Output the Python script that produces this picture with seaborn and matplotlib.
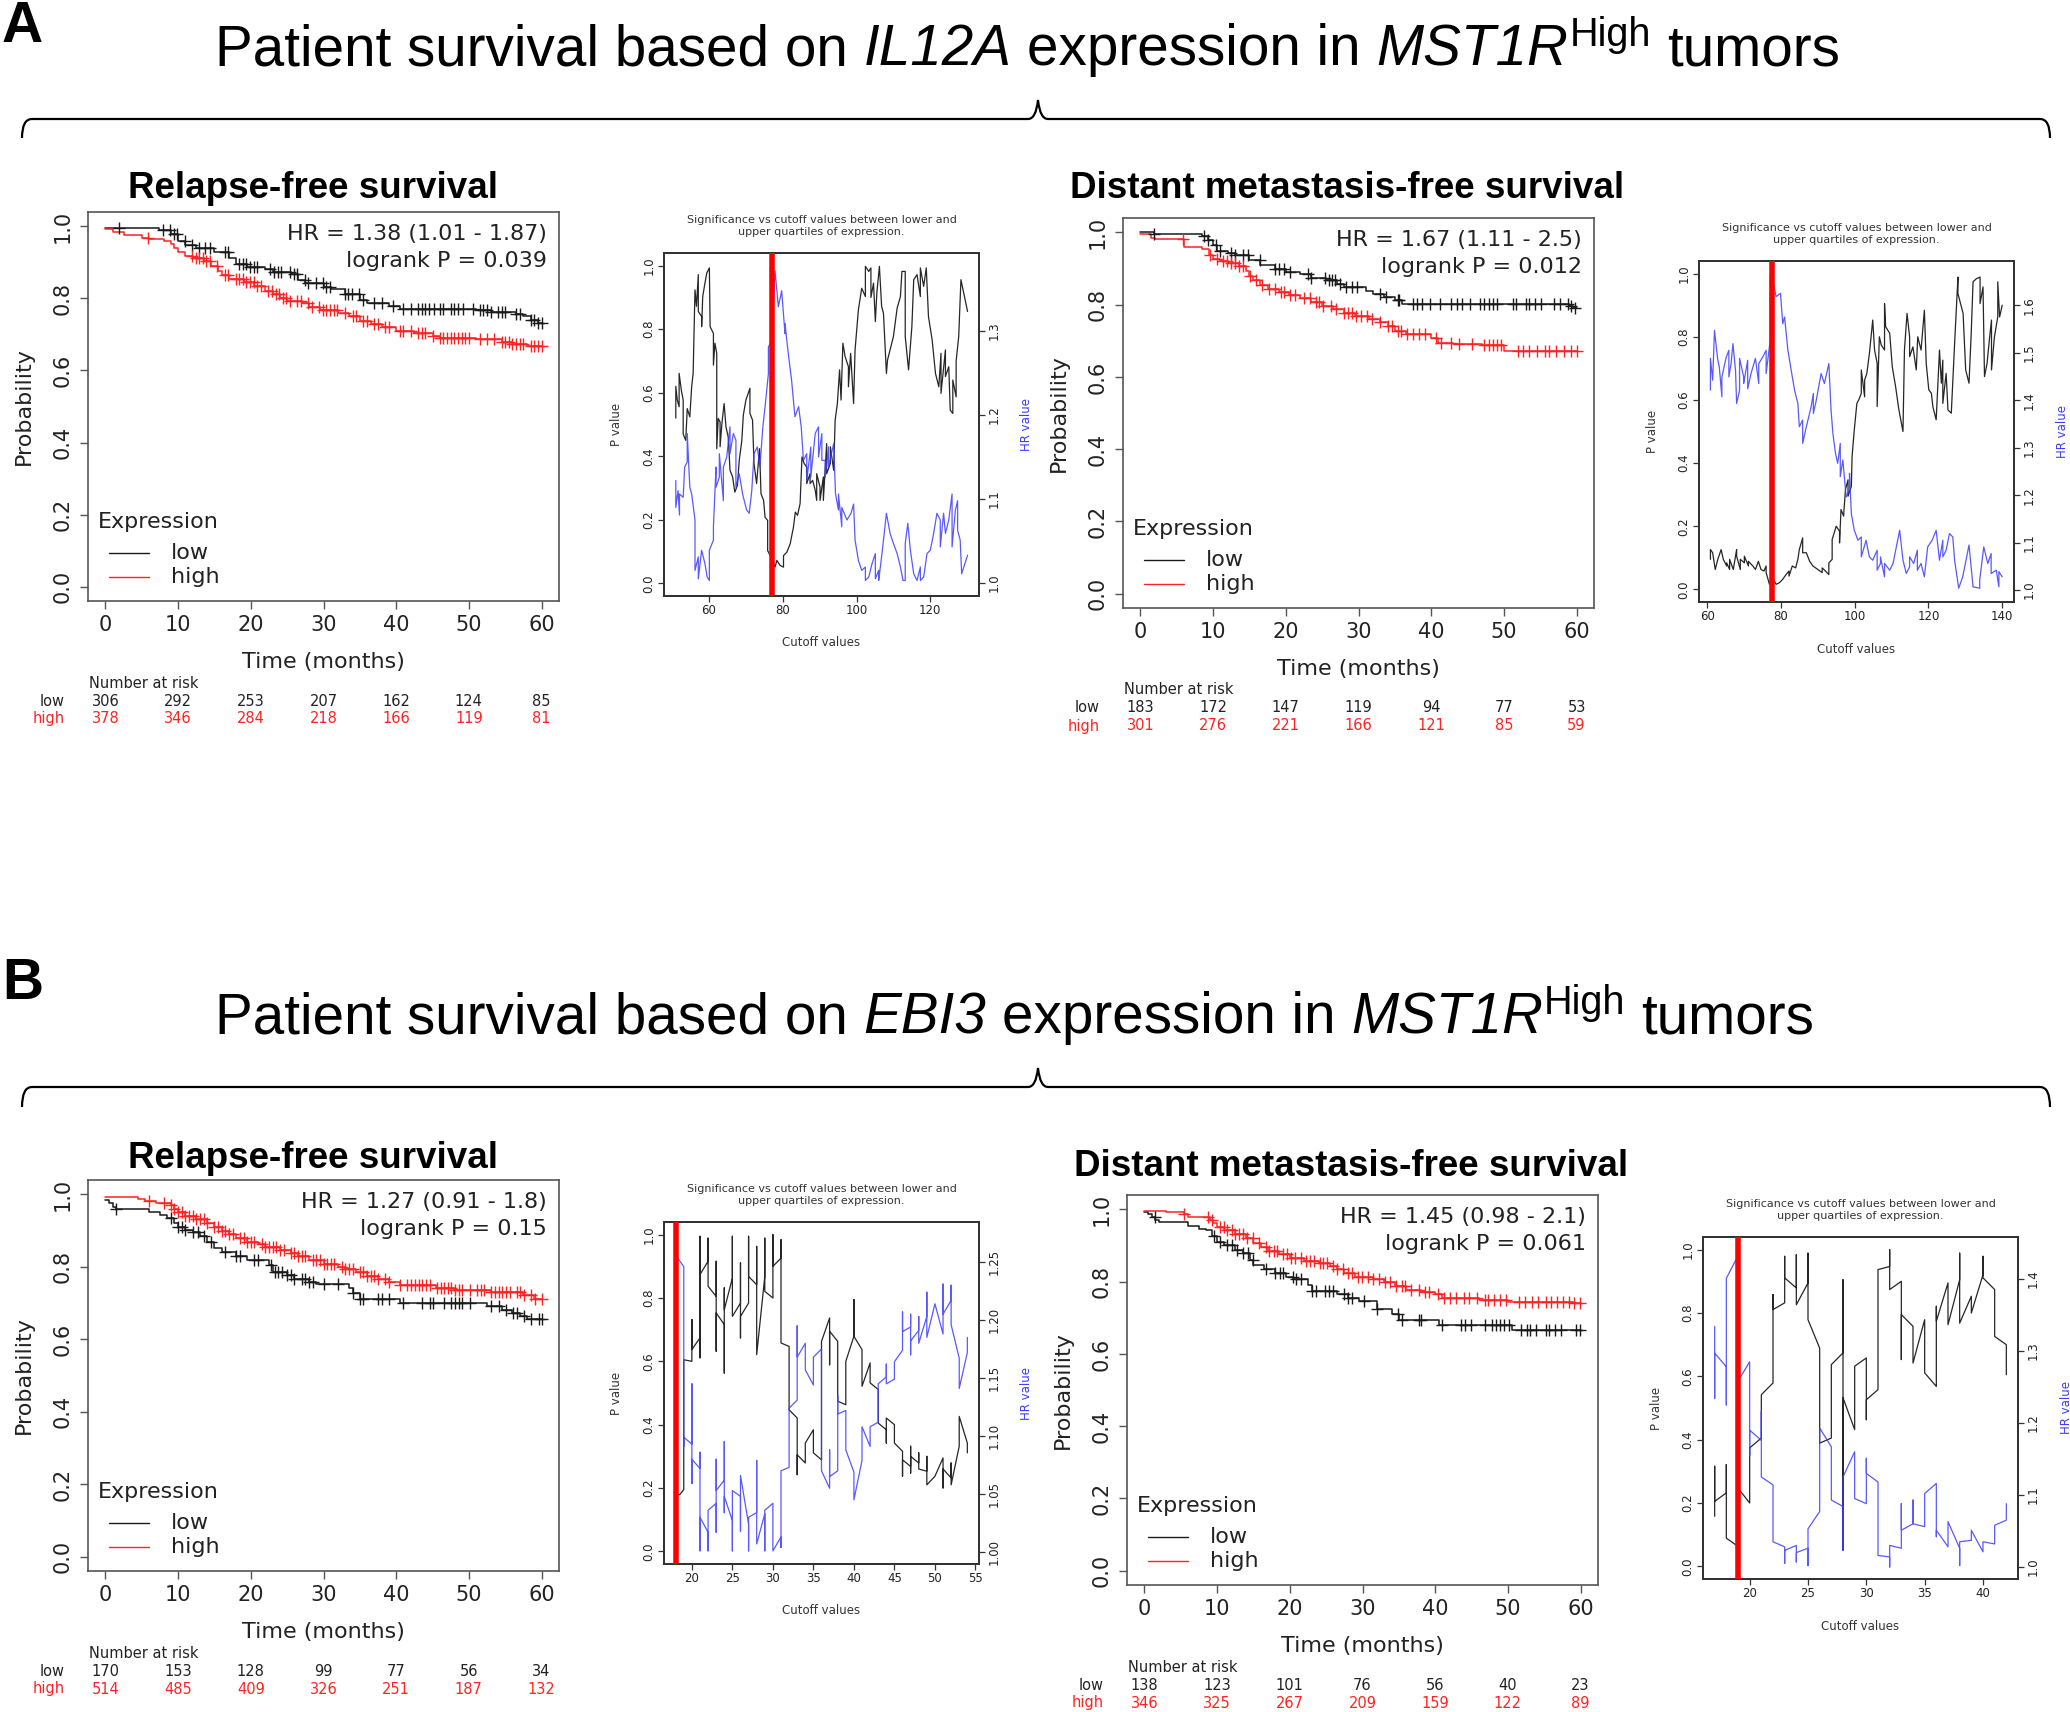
import numpy as np
import pandas as pd
import matplotlib
matplotlib.use("Agg")
import matplotlib.pyplot as plt
import matplotlib.transforms as mtransforms
from matplotlib.path import Path
from matplotlib.patches import PathPatch
import seaborn as sns

sns.set_style("white")
plt.rcParams["font.family"] = ["DejaVu Sans"]

# ---------------- data: Kaplan-Meier curves ----------------
risk_times = [0, 10, 20, 30, 40, 50, 60]

il12a_rfs_low_t = [0, 7.4, 9, 10, 11, 12.5, 15, 17, 18, 19.5, 22, 23, 25.5, 26.5, 27.5, 30, 31, 33, 35, 36, 39, 40.5, 51, 53, 56.5, 57.5, 58.5, 59.5, 60]
il12a_rfs_low_s = [0.995, 0.99, 0.98, 0.959, 0.949, 0.939, 0.929, 0.911, 0.895, 0.888, 0.883, 0.874, 0.867, 0.852, 0.842, 0.832, 0.827, 0.811, 0.796, 0.786, 0.779, 0.770, 0.767, 0.762, 0.757, 0.75, 0.74, 0.733, 0.733]
il12a_rfs_high_t = [0, 1, 2.5, 5, 6, 8, 9, 9.5, 10, 11, 12, 13.5, 14.5, 15.5, 16, 17, 19, 20.5, 22, 23, 24, 25, 27, 28, 29.5, 32, 33.5, 35, 36.5, 38, 40, 42.5, 45, 46, 51, 54.5, 56, 58, 60]
il12a_rfs_high_s = [0.992, 0.985, 0.977, 0.969, 0.965, 0.959, 0.952, 0.939, 0.929, 0.918, 0.911, 0.903, 0.891, 0.876, 0.865, 0.854, 0.847, 0.834, 0.821, 0.811, 0.801, 0.793, 0.786, 0.776, 0.768, 0.760, 0.75, 0.738, 0.730, 0.721, 0.711, 0.704, 0.697, 0.691, 0.687, 0.679, 0.673, 0.668, 0.668]
il12a_rfs_low_cens = [1.9, 7.9, 8.9, 9.4, 9.9, 10.9, 11.9, 12.9, 13.7, 14.4, 16.4, 16.9, 18.4, 18.9, 19.4, 19.9, 20.4, 20.9, 22.7, 23.2, 23.7, 24.2, 25.4, 25.9, 26.4, 27.4, 27.9, 28.9, 29.9, 30.4, 30.9, 33, 33.4, 33.9, 34.9, 35.5, 36.9, 38, 39.5, 41, 42, 43, 43.5, 44, 44.5, 45.2, 46, 46.5, 47.5, 48, 48.5, 49.2, 50.5, 51.5, 52, 52.5, 53, 54, 54.5, 55, 56.5, 57, 58.5, 59, 59.5, 60]
il12a_rfs_high_cens = [5.9, 11.9, 12.4, 12.9, 13.4, 13.9, 14.4, 15.4, 16.4, 16.9, 17.9, 18.4, 18.9, 19.4, 19.9, 20.4, 20.9, 21.4, 22.4, 22.9, 23.4, 23.9, 24.4, 24.9, 25.4, 26.4, 26.9, 27.9, 28.4, 29.4, 29.9, 30.4, 30.9, 31.4, 31.9, 33, 34, 34.5, 35.5, 36, 37, 37.5, 38.5, 39, 40.5, 41, 42, 43, 43.5, 44, 45, 46, 46.5, 47, 47.5, 48, 48.5, 49, 49.5, 50, 51.5, 52.5, 53.5, 54.5, 55, 55.5, 56, 56.5, 57, 57.5, 58.5, 59, 59.5, 60]
il12a_rfs_risk_low = [306, 292, 253, 207, 162, 124, 85]
il12a_rfs_risk_high = [378, 346, 284, 218, 166, 119, 81]

il12a_dmfs_low_t = [0, 1.8, 8.5, 9.3, 10, 10.5, 12, 13, 15, 16.5, 18.5, 20, 22, 23.5, 25.5, 27, 28, 31, 32, 33.5, 35, 36, 59, 59.5, 60]
il12a_dmfs_low_s = [1.0, 0.997, 0.99, 0.979, 0.964, 0.948, 0.943, 0.938, 0.925, 0.909, 0.899, 0.891, 0.886, 0.875, 0.868, 0.858, 0.849, 0.839, 0.829, 0.821, 0.813, 0.802, 0.797, 0.79, 0.79]
il12a_dmfs_high_t = [0, 1.5, 2, 6, 8.5, 9.5, 10, 11, 12, 13.5, 14.5, 15, 15.5, 16.5, 17.5, 19, 20.5, 22, 23.5, 25, 26.5, 28, 29.5, 31.5, 33, 34, 35, 36.5, 40, 41, 43, 47, 50, 60]
il12a_dmfs_high_s = [0.995, 0.984, 0.981, 0.960, 0.953, 0.938, 0.927, 0.922, 0.915, 0.906, 0.894, 0.880, 0.867, 0.854, 0.844, 0.836, 0.828, 0.818, 0.808, 0.797, 0.787, 0.777, 0.768, 0.761, 0.751, 0.740, 0.728, 0.719, 0.709, 0.695, 0.691, 0.688, 0.673, 0.673]
il12a_dmfs_low_cens = [1.9, 8.8, 9.3, 10.4, 10.9, 12.5, 13, 14.1, 14.8, 16.4, 18.5, 19.1, 19.8, 20.6, 23, 23.5, 25.4, 25.9, 26.4, 26.7, 27.5, 28.3, 29.1, 29.8, 33, 33.8, 35.4, 35.6, 37.5, 38, 38.8, 39.8, 41.2, 42.7, 43.5, 44.3, 45.4, 46.7, 47.2, 48, 48.5, 49.1, 51.2, 51.7, 53, 53.5, 54.3, 55.1, 56.9, 57.7, 58.8, 59.3, 59.8]
il12a_dmfs_high_cens = [5.9, 9.6, 10.6, 11.4, 11.9, 12.5, 13, 13.5, 14.1, 15.1, 15.9, 16.7, 17.7, 18.5, 19.3, 19.8, 20.6, 21.2, 22.5, 23.3, 24.1, 24.6, 25.1, 26.2, 26.9, 28, 28.5, 29.1, 29.6, 30.4, 31.2, 31.9, 33, 34.1, 34.6, 35.4, 35.9, 36.7, 37.5, 38.3, 39.1, 40.6, 41.4, 42.7, 43.8, 45.6, 47.2, 48, 48.5, 49.1, 49.6, 52, 52.7, 53.5, 54.6, 55.6, 56.2, 57.2, 58.3, 59.3, 60]
il12a_dmfs_risk_low = [183, 172, 147, 119, 94, 77, 53]
il12a_dmfs_risk_high = [301, 276, 221, 166, 121, 85, 59]

ebi3_rfs_low_t = [0, 0.5, 1, 1.5, 6, 7.5, 8.5, 9.5, 10, 11, 12, 13, 14, 15, 16, 18, 19.5, 22.5, 23, 25, 26, 28, 29, 33.5, 34, 35, 40.5, 52.5, 54.5, 56, 57, 58, 60]
ebi3_rfs_low_s = [0.984, 0.977, 0.966, 0.959, 0.951, 0.944, 0.936, 0.920, 0.910, 0.902, 0.895, 0.885, 0.869, 0.852, 0.841, 0.829, 0.818, 0.805, 0.785, 0.778, 0.767, 0.757, 0.752, 0.742, 0.727, 0.711, 0.701, 0.691, 0.681, 0.673, 0.665, 0.655, 0.655]
ebi3_rfs_high_t = [0, 4.5, 5.5, 7, 9, 9.5, 10, 11, 12.5, 14, 15, 16, 17, 18, 19.5, 21, 22, 24, 25.5, 26.5, 28, 30, 32, 33, 34.5, 36, 37.5, 39, 40.5, 45.5, 48, 53, 57.5, 59, 60]
ebi3_rfs_high_s = [0.992, 0.987, 0.982, 0.977, 0.971, 0.961, 0.951, 0.941, 0.931, 0.920, 0.910, 0.900, 0.890, 0.880, 0.869, 0.864, 0.854, 0.846, 0.839, 0.829, 0.818, 0.808, 0.801, 0.793, 0.785, 0.774, 0.767, 0.759, 0.749, 0.742, 0.737, 0.730, 0.721, 0.711, 0.711]
ebi3_rfs_low_cens = [1.5, 9, 10, 10.5, 11, 12, 12.8, 13.5, 14.5, 16.5, 18, 18.5, 20.5, 21, 22.8, 23.3, 23.8, 24.3, 25, 25.5, 26, 27, 27.5, 28, 28.5, 30, 32, 34, 35, 35.5, 37.5, 38, 39, 41, 43.6, 44.6, 45.1, 46.6, 47.6, 48.1, 48.6, 49.1, 50.1, 53.1, 54.1, 55.1, 56.1, 56.6, 57.6, 58.6, 59.6, 60]
ebi3_rfs_high_cens = [6, 8, 9, 9.5, 10, 10.5, 11, 11.5, 12, 12.5, 13, 13.5, 14, 15, 15.5, 16, 16.5, 17, 17.5, 18.5, 19, 19.5, 20, 20.5, 21.5, 22, 22.5, 23, 23.5, 24, 24.5, 25.5, 26, 26.5, 27, 27.5, 28.5, 29, 29.5, 30, 30.5, 31, 31.5, 32.5, 33, 33.5, 34, 35, 35.5, 36, 36.5, 37, 37.5, 38.5, 39, 40.5, 41.5, 42, 42.6, 43.1, 43.6, 44.1, 44.6, 45.6, 46.1, 46.6, 47.1, 47.6, 48.1, 48.6, 49.1, 50.1, 51.1, 51.6, 52.1, 53.1, 53.6, 54.1, 54.6, 55.1, 55.6, 56.6, 57.1, 57.6, 58.6, 59.1, 60]
ebi3_rfs_risk_low = [170, 153, 128, 99, 77, 56, 34]
ebi3_rfs_risk_high = [514, 485, 409, 326, 251, 187, 132]

ebi3_dmfs_low_t = [0, 0.5, 1, 1.5, 2, 6, 7.5, 8.5, 9.3, 10, 11, 12.5, 13.5, 14.5, 15, 16.5, 18, 19.5, 20.5, 22.5, 23, 26.5, 28, 29.5, 32, 34, 35, 40.5, 50.5, 60]
ebi3_dmfs_low_s = [0.994, 0.987, 0.980, 0.972, 0.965, 0.955, 0.947, 0.942, 0.926, 0.911, 0.901, 0.889, 0.878, 0.861, 0.846, 0.834, 0.824, 0.814, 0.806, 0.791, 0.775, 0.765, 0.755, 0.747, 0.725, 0.710, 0.695, 0.680, 0.665, 0.665]
ebi3_dmfs_high_t = [0, 3, 5.5, 6, 9, 9.5, 10, 11, 12.5, 14, 15, 16, 17, 18.5, 20, 22, 24, 25.5, 26.5, 27.5, 29, 31.5, 33, 34.5, 36, 38, 40, 41, 46, 50, 59, 60]
ebi3_dmfs_high_s = [0.997, 0.994, 0.987, 0.979, 0.972, 0.962, 0.952, 0.942, 0.932, 0.921, 0.908, 0.896, 0.886, 0.876, 0.866, 0.858, 0.851, 0.843, 0.834, 0.824, 0.814, 0.806, 0.798, 0.788, 0.777, 0.770, 0.765, 0.755, 0.750, 0.745, 0.740, 0.740]
ebi3_dmfs_low_cens = [1.4, 9.6, 10.4, 11.4, 12, 12.8, 13.5, 14.3, 14.9, 16.7, 18, 18.6, 19.1, 20.4, 20.9, 21.5, 23, 23.6, 24.9, 25.4, 25.9, 27.5, 28, 28.6, 30.2, 32, 34.9, 35.4, 37.8, 38, 41, 43.6, 44.1, 44.9, 46.8, 47.8, 48.3, 48.9, 49.4, 50.2, 51.8, 52.6, 53.1, 53.9, 55.2, 55.7, 56.5, 57.3, 59.4, 59.9]
ebi3_dmfs_high_cens = [5.5, 8.8, 9.3, 10.4, 10.9, 11.4, 12, 12.5, 13, 13.5, 14.1, 14.9, 15.7, 16.7, 17.2, 17.8, 18.3, 19.1, 19.6, 20.1, 20.7, 21.5, 22.2, 22.8, 23.3, 24.1, 24.6, 25.1, 25.9, 26.5, 27.3, 28, 28.6, 29.4, 29.9, 30.7, 31.5, 32.3, 33.1, 33.8, 34.6, 35.4, 35.9, 36.7, 37.8, 38.6, 39.1, 40.4, 41.2, 42, 42.8, 43.9, 44.6, 45.7, 46.8, 47.3, 48.1, 48.9, 49.7, 51.5, 52.3, 53.3, 54.1, 55.2, 56, 56.8, 57.6, 58.4, 59.1, 59.9]
ebi3_dmfs_risk_low = [138, 123, 101, 76, 56, 40, 23]
ebi3_dmfs_risk_high = [346, 325, 267, 209, 159, 122, 89]

# ---------------- data: cutoff scans ----------------
il12a_rfs_cut_x = [51.0, 51.0, 51.4, 51.9, 51.9, 52.5, 53.0, 53.0, 53.7, 54.1, 54.8, 55.3, 55.7, 56.2, 56.6, 57.1, 57.1, 58.0, 58.0, 58.3, 58.9, 59.4, 60.1, 60.3, 61.2, 61.2, 61.6, 62.1, 62.1, 62.5, 63.0, 63.0, 63.5, 64.1, 64.6, 65.2, 65.7, 66.4, 67.0, 67.7, 68.2, 68.9, 69.3, 70.0, 71.1, 71.1, 71.8, 72.2, 72.9, 73.7, 74.1, 74.8, 75.2, 75.9, 75.9, 76.6, 77.9, 78.4, 79.3, 80.2, 80.2, 81.1, 82.0, 82.9, 83.4, 84.0, 84.7, 85.2, 85.8, 86.5, 86.5, 87.4, 87.4, 88.1, 88.8, 89.2, 89.2, 90.1, 90.1, 91.0, 91.0, 91.9, 91.9, 92.9, 92.9, 93.8, 94.2, 94.8, 95.4, 95.8, 96.3, 96.9, 97.8, 97.8, 98.4, 99.2, 99.6, 100.5, 101.4, 102.4, 102.4, 103.3, 103.9, 103.9, 104.6, 105.1, 105.5, 106.2, 106.8, 107.3, 108.1, 108.4, 109.1, 110.0, 111.0, 111.9, 112.3, 113.2, 113.2, 114.1, 115.0, 115.5, 116.4, 117.3, 117.3, 118.2, 118.9, 119.5, 120.5, 121.4, 122.3, 122.9, 122.9, 124.1, 124.1, 125.0, 125.4, 126.1, 126.1, 127.0, 127.0, 127.7, 128.3, 130.1]
il12a_rfs_cut_p = [0.52, 0.62, 0.577, 0.556, 0.661, 0.608, 0.577, 0.47, 0.45, 0.55, 0.524, 0.619, 0.661, 0.924, 0.872, 0.972, 0.856, 0.84, 0.808, 0.903, 0.945, 0.977, 0.993, 0.808, 0.787, 0.687, 0.756, 0.724, 0.424, 0.519, 0.508, 0.43, 0.503, 0.566, 0.493, 0.461, 0.356, 0.335, 0.287, 0.308, 0.387, 0.45, 0.529, 0.577, 0.614, 0.535, 0.514, 0.377, 0.314, 0.424, 0.282, 0.261, 0.208, 0.198, 0.103, 0.087, 0.051, 0.072, 0.056, 0.051, 0.087, 0.098, 0.124, 0.177, 0.224, 0.214, 0.251, 0.398, 0.377, 0.366, 0.314, 0.345, 0.314, 0.324, 0.293, 0.261, 0.345, 0.303, 0.261, 0.335, 0.261, 0.44, 0.345, 0.377, 0.43, 0.356, 0.514, 0.566, 0.672, 0.577, 0.756, 0.714, 0.682, 0.619, 0.724, 0.566, 0.735, 0.861, 0.929, 0.903, 0.998, 0.982, 0.993, 0.9, 0.945, 0.824, 0.914, 0.998, 0.872, 0.85, 0.661, 0.703, 0.735, 0.777, 0.866, 0.903, 0.982, 0.982, 0.777, 0.672, 0.808, 0.956, 0.972, 0.903, 0.993, 0.935, 0.993, 0.84, 0.766, 0.661, 0.619, 0.724, 0.598, 0.735, 0.651, 0.682, 0.545, 0.535, 0.64, 0.587, 0.70, 0.777, 0.956, 0.856]
il12a_rfs_hr_x = [51.0, 51.0, 51.6, 52.0, 52.0, 53.0, 53.4, 54.1, 54.1, 54.8, 55.3, 56.2, 56.2, 57.1, 57.1, 58.0, 58.9, 59.5, 60.1, 60.1, 61.2, 61.2, 61.9, 61.9, 62.8, 62.8, 63.9, 63.9, 64.8, 65.7, 65.7, 66.6, 67.3, 67.3, 68.2, 69.1, 70.2, 70.9, 71.6, 72.2, 73.1, 73.8, 74.6, 75.2, 76.1, 76.1, 77.0, 77.9, 78.8, 79.7, 80.6, 80.6, 81.5, 82.4, 83.3, 84.3, 85.0, 85.6, 86.5, 86.5, 87.6, 87.6, 88.8, 89.7, 89.7, 90.6, 90.6, 91.5, 91.5, 92.4, 92.4, 93.8, 94.3, 95.1, 95.1, 96.0, 96.0, 97.4, 98.5, 99.2, 99.6, 100.5, 101.4, 102.4, 102.4, 103.3, 104.2, 105.1, 105.1, 106.0, 106.0, 106.9, 108.1, 109.1, 110.0, 111.0, 111.9, 112.6, 113.2, 113.2, 113.9, 114.6, 115.5, 116.4, 117.3, 117.3, 118.2, 119.1, 120.0, 120.9, 121.8, 122.7, 122.7, 123.6, 124.1, 125.0, 125.9, 125.9, 126.8, 127.4, 127.4, 128.1, 128.5, 130.1]
il12a_rfs_hr = [1.122, 1.09, 1.11, 1.081, 1.106, 1.102, 1.138, 1.144, 1.178, 1.114, 1.106, 1.075, 1.015, 1.031, 1.005, 1.039, 1.023, 1.007, 1.003, 1.039, 1.051, 1.067, 1.138, 1.114, 1.126, 1.154, 1.098, 1.138, 1.15, 1.186, 1.154, 1.178, 1.17, 1.114, 1.13, 1.106, 1.087, 1.083, 1.11, 1.154, 1.162, 1.138, 1.186, 1.21, 1.249, 1.281, 1.289, 1.372, 1.329, 1.348, 1.297, 1.309, 1.273, 1.241, 1.198, 1.21, 1.186, 1.146, 1.154, 1.122, 1.162, 1.126, 1.178, 1.186, 1.150, 1.178, 1.146, 1.146, 1.126, 1.162, 1.138, 1.166, 1.106, 1.087, 1.106, 1.067, 1.090, 1.075, 1.083, 1.094, 1.051, 1.027, 1.015, 1.019, 1.003, 1.007, 1.023, 1.035, 1.005, 1.015, 1.003, 1.035, 1.083, 1.059, 1.047, 1.035, 1.019, 1.003, 1.003, 1.047, 1.071, 1.039, 1.011, 1.003, 1.019, 1.003, 1.007, 1.035, 1.039, 1.059, 1.083, 1.075, 1.043, 1.083, 1.059, 1.075, 1.106, 1.043, 1.087, 1.098, 1.063, 1.051, 1.011, 1.033]

il12a_dmfs_cut_x = [60.9, 60.9, 61.5, 62.2, 62.9, 63.8, 64.4, 65.3, 65.3, 66.1, 66.1, 67.1, 68.0, 68.0, 69.0, 69.0, 70.1, 70.1, 71.2, 71.2, 72.4, 73.1, 73.9, 74.6, 75.4, 76.0, 76.0, 76.9, 77.5, 78.7, 79.6, 80.5, 81.4, 82.2, 82.2, 83.1, 84.0, 84.6, 85.0, 85.9, 85.9, 86.9, 87.8, 88.7, 90.0, 91.2, 91.2, 92.1, 93.0, 93.0, 93.9, 93.9, 95.0, 95.9, 95.9, 96.3, 97.0, 97.5, 98.2, 98.2, 99.1, 99.3, 99.9, 100.6, 101.1, 101.8, 101.8, 102.7, 102.7, 103.3, 104.0, 104.9, 105.4, 106.1, 106.1, 106.7, 107.2, 108.1, 108.1, 108.4, 109.5, 110.2, 111.1, 112.0, 113.1, 113.5, 114.2, 114.9, 114.9, 115.8, 116.7, 117.1, 118.0, 118.9, 119.4, 120.1, 120.8, 121.2, 122.1, 123.0, 123.5, 123.9, 123.9, 124.8, 125.3, 126.2, 127.1, 128.0, 128.0, 129.4, 130.1, 131.0, 131.6, 132.1, 133.0, 134.0, 134.0, 134.8, 135.2, 135.9, 136.6, 137.1, 137.1, 137.9, 138.8, 138.8, 139.3, 140.0]
il12a_dmfs_cut_p = [0.095, 0.126, 0.116, 0.063, 0.095, 0.126, 0.095, 0.074, 0.084, 0.063, 0.095, 0.063, 0.126, 0.105, 0.063, 0.095, 0.084, 0.105, 0.074, 0.089, 0.074, 0.063, 0.089, 0.063, 0.058, 0.074, 0.053, 0.016, 0.042, 0.016, 0.021, 0.032, 0.047, 0.058, 0.042, 0.074, 0.068, 0.095, 0.126, 0.163, 0.116, 0.116, 0.089, 0.074, 0.063, 0.053, 0.068, 0.058, 0.047, 0.084, 0.095, 0.158, 0.2, 0.184, 0.147, 0.253, 0.232, 0.316, 0.347, 0.295, 0.326, 0.421, 0.505, 0.589, 0.6, 0.621, 0.695, 0.61, 0.663, 0.684, 0.747, 0.853, 0.758, 0.716, 0.579, 0.8, 0.774, 0.758, 0.905, 0.832, 0.811, 0.705, 0.642, 0.568, 0.5, 0.758, 0.874, 0.8, 0.737, 0.768, 0.695, 0.8, 0.758, 0.884, 0.716, 0.632, 0.621, 0.579, 0.537, 0.758, 0.653, 0.726, 0.589, 0.684, 0.568, 0.558, 0.779, 0.989, 0.937, 0.874, 0.695, 0.653, 0.811, 0.974, 0.984, 0.989, 0.905, 0.958, 0.674, 0.716, 0.8, 0.853, 0.695, 0.8, 0.863, 0.974, 0.863, 0.9]
il12a_dmfs_hr_x = [60.9, 60.9, 61.5, 62.0, 62.9, 63.3, 64.0, 64.0, 65.2, 65.9, 65.9, 66.5, 67.0, 67.7, 68.0, 68.8, 68.8, 69.9, 69.9, 71.0, 71.0, 71.9, 73.1, 74.0, 74.0, 75.1, 76.0, 76.0, 77.1, 77.1, 77.8, 78.7, 79.9, 80.5, 81.0, 81.9, 82.8, 83.7, 84.6, 85.0, 85.9, 85.9, 86.9, 88.2, 88.8, 88.8, 89.6, 90.9, 91.8, 93.0, 93.6, 94.1, 94.8, 95.4, 96.1, 96.1, 96.8, 97.7, 98.6, 98.6, 99.1, 99.9, 100.9, 101.8, 101.8, 103.1, 104.0, 104.9, 106.1, 106.1, 107.0, 107.0, 108.1, 108.1, 109.5, 110.4, 111.3, 112.2, 113.1, 114.0, 114.9, 114.9, 116.0, 117.0, 117.0, 118.0, 118.9, 119.8, 121.0, 122.1, 123.0, 123.9, 123.9, 124.8, 125.7, 126.6, 127.1, 128.2, 129.3, 131.0, 132.1, 133.9, 133.9, 135.0, 136.1, 137.0, 137.0, 138.4, 139.1, 139.1, 140.0]
il12a_dmfs_hr = [1.421, 1.488, 1.442, 1.547, 1.484, 1.47, 1.407, 1.449, 1.491, 1.505, 1.449, 1.477, 1.519, 1.463, 1.393, 1.421, 1.488, 1.449, 1.435, 1.484, 1.424, 1.456, 1.488, 1.435, 1.477, 1.491, 1.505, 1.456, 1.526, 1.663, 1.653, 1.618, 1.625, 1.561, 1.575, 1.505, 1.463, 1.421, 1.393, 1.344, 1.358, 1.309, 1.344, 1.386, 1.414, 1.372, 1.4, 1.456, 1.435, 1.477, 1.379, 1.33, 1.288, 1.267, 1.309, 1.239, 1.274, 1.196, 1.211, 1.246, 1.161, 1.126, 1.105, 1.112, 1.07, 1.105, 1.07, 1.063, 1.084, 1.042, 1.056, 1.07, 1.028, 1.056, 1.042, 1.056, 1.091, 1.126, 1.063, 1.035, 1.049, 1.07, 1.056, 1.084, 1.042, 1.056, 1.028, 1.091, 1.105, 1.126, 1.063, 1.105, 1.07, 1.084, 1.119, 1.112, 1.063, 1.004, 1.028, 1.095, 1.007, 1.004, 1.021, 1.091, 1.056, 1.077, 1.035, 1.042, 1.007, 1.039, 1.028]

ebi3_rfs_cut_x = [18, 18.5, 19, 19, 20, 20, 20, 21, 21, 21, 21, 22, 22, 22, 23, 23, 23, 23, 24, 24, 24, 24, 25, 25, 25, 26, 26, 26, 26, 27, 27, 27, 28, 28, 28, 29, 29, 29, 30, 30, 30, 31, 31, 31, 32, 32, 33, 33, 33, 34, 34, 35, 35, 36, 36, 37, 37, 37, 38, 38, 39, 39, 40, 40, 40, 41, 41, 42, 42, 43, 43, 44, 44, 44, 45, 45, 46, 46, 46, 47, 47, 47, 47, 48, 48, 48, 49, 49, 49, 50, 51, 51, 51, 52, 52, 52, 53, 53, 53, 54, 54]
ebi3_rfs_cut_p = [0.179, 0.179, 0.195, 0.605, 0.6, 0.732, 0.637, 0.674, 0.995, 0.611, 0.874, 0.916, 0.989, 0.837, 0.805, 0.916, 0.632, 0.753, 0.716, 0.563, 0.832, 0.763, 0.863, 0.995, 0.742, 0.784, 0.911, 0.674, 0.742, 0.784, 0.995, 0.868, 0.842, 0.963, 0.621, 0.868, 0.989, 0.821, 0.8, 1.0, 0.9, 0.926, 0.984, 0.658, 0.647, 0.447, 0.421, 0.242, 0.305, 0.279, 0.342, 0.384, 0.311, 0.289, 0.663, 0.737, 0.589, 0.695, 0.663, 0.474, 0.463, 0.6, 0.679, 0.795, 0.679, 0.637, 0.521, 0.595, 0.532, 0.511, 0.405, 0.384, 0.342, 0.421, 0.4, 0.342, 0.316, 0.237, 0.289, 0.268, 0.332, 0.247, 0.3, 0.279, 0.311, 0.26, 0.253, 0.3, 0.21, 0.237, 0.295, 0.2, 0.26, 0.232, 0.279, 0.21, 0.332, 0.379, 0.426, 0.342, 0.311]
ebi3_rfs_hr_x = [18, 19, 19, 19, 20, 20, 20, 20, 21, 21, 21, 21, 22, 22, 22, 23, 23, 23, 23, 24, 24, 24, 24, 25, 25, 25, 26, 26, 26, 27, 27, 27, 28, 28, 28, 29, 29, 29, 30, 30, 31, 31, 31, 32, 32, 33, 33, 33, 34, 34, 35, 35, 36, 36, 37, 37, 37, 38, 38, 38, 39, 39, 40, 40, 41, 41, 42, 42, 43, 43, 44, 44, 44, 45, 45, 46, 46, 46, 47, 47, 47, 47, 48, 48, 48, 49, 49, 49, 50, 51, 51, 51, 52, 52, 52, 53, 53, 54, 54]
ebi3_rfs_hr = [1.256, 1.246, 1.091, 1.099, 1.093, 1.145, 1.059, 1.080, 1.072, 1.086, 1.001, 1.03, 1.017, 1.001, 1.036, 1.042, 1.017, 1.080, 1.053, 1.062, 1.095, 1.034, 1.048, 1.027, 1.001, 1.053, 1.048, 1.018, 1.066, 1.024, 1.001, 1.030, 1.034, 1.079, 1.007, 1.033, 1.001, 1.036, 1.042, 1.001, 1.013, 1.004, 1.07, 1.073, 1.124, 1.131, 1.195, 1.168, 1.18, 1.157, 1.144, 1.168, 1.175, 1.07, 1.055, 1.088, 1.065, 1.07, 1.135, 1.119, 1.122, 1.088, 1.069, 1.045, 1.079, 1.108, 1.091, 1.108, 1.112, 1.145, 1.151, 1.162, 1.145, 1.149, 1.164, 1.174, 1.207, 1.19, 1.194, 1.205, 1.17, 1.182, 1.191, 1.203, 1.18, 1.203, 1.224, 1.185, 1.214, 1.188, 1.231, 1.205, 1.217, 1.23, 1.196, 1.167, 1.141, 1.172, 1.185]

ebi3_dmfs_cut_x = [17, 17, 17, 18, 18, 18, 19, 19, 20, 20, 21, 21, 22, 22, 22, 23, 23, 23, 24, 24, 24, 25, 25, 25, 26, 26, 27, 27, 28, 28, 28, 28, 29, 29, 30, 30, 30, 31, 31, 32, 32, 32, 33, 33, 33, 34, 34, 35, 35, 36, 36, 36, 37, 37, 38, 38, 38, 39, 39, 40, 40, 40, 41, 41, 42, 42]
ebi3_dmfs_cut_p = [0.158, 0.316, 0.205, 0.232, 0.321, 0.089, 0.063, 0.247, 0.2, 0.374, 0.405, 0.542, 0.579, 0.858, 0.811, 0.832, 0.979, 0.911, 0.879, 0.984, 0.826, 0.895, 0.989, 0.779, 0.689, 0.389, 0.405, 0.637, 0.674, 0.905, 0.053, 0.532, 0.432, 0.632, 0.658, 0.463, 0.526, 0.558, 0.937, 0.947, 1.0, 0.874, 0.9, 0.653, 0.795, 0.758, 0.642, 0.779, 0.611, 0.568, 0.821, 0.774, 0.895, 0.763, 0.905, 0.989, 0.768, 0.853, 0.8, 0.921, 0.979, 0.911, 0.874, 0.726, 0.7, 0.605]
ebi3_dmfs_hr_x = [17, 17, 17, 18, 18, 18, 19, 19, 20, 20, 20, 21, 21, 21, 22, 22, 23, 23, 23, 24, 24, 24, 25, 25, 25, 26, 26, 27, 27, 28, 28, 28, 29, 29, 30, 30, 30, 31, 31, 32, 32, 32, 33, 33, 33, 34, 34, 34, 35, 35, 36, 36, 36, 37, 37, 38, 38, 38, 39, 39, 40, 40, 41, 41, 42, 42]
ebi3_dmfs_hr = [1.334, 1.234, 1.297, 1.278, 1.225, 1.401, 1.432, 1.258, 1.285, 1.155, 1.19, 1.176, 1.216, 1.125, 1.114, 1.035, 1.028, 1.005, 1.023, 1.03, 1.007, 1.02, 1.026, 1.002, 1.053, 1.077, 1.193, 1.167, 1.093, 1.084, 1.023, 1.125, 1.16, 1.095, 1.088, 1.151, 1.13, 1.118, 1.016, 1.014, 1.0, 1.03, 1.026, 1.088, 1.051, 1.06, 1.093, 1.06, 1.056, 1.102, 1.116, 1.042, 1.051, 1.028, 1.063, 1.026, 1.002, 1.035, 1.037, 1.051, 1.021, 1.035, 1.032, 1.058, 1.065, 1.088]

best_cutoff = {"il12a_rfs": 77.1, "il12a_dmfs": 77.6, "ebi3_rfs": 18, "ebi3_dmfs": 19}

# ---------------- layout (pixels, top-left origin) ----------------
W, H = 2070, 1712
fig = plt.figure(figsize=(W / 100, H / 100), dpi=100)
renderer = fig.canvas.get_renderer()

TXT = "#222222"
RED = "#ff2222"
BLUE = "#3c3cff"
SANS = "Liberation Sans"


def add_box(x0, y0, x1, y1):
    return fig.add_axes([x0 / W, 1 - y1 / H, (x1 - x0) / W, (y1 - y0) / H])


def ftext(x, y, s, **kw):
    kw.setdefault("color", TXT)
    return fig.text(x / W, 1 - y / H, s, **kw)


def style_box(ax, color, lw):
    for sp in ax.spines.values():
        sp.set_visible(True)
        sp.set_color(color)
        sp.set_linewidth(lw)


def step_at(t, s, c):
    idx = np.searchsorted(np.asarray(t), np.asarray(c), side="right") - 1
    return np.asarray(s)[idx]


def km_panel(box, title_y, title, hr_txt, p_txt, low, high, risk_low, risk_high):
    x0, y0, x1, y1 = box
    ax = add_box(*box)
    for (t, s, cens), col in ((low, "#1a1a1a"), (high, RED)):
        df = pd.DataFrame({"time": t, "surv": s})
        sns.lineplot(data=df, x="time", y="surv", ax=ax, color=col, lw=1.1,
                     drawstyle="steps-post", estimator=None, sort=False)
        cdf = pd.DataFrame({"time": cens, "surv": step_at(t, s, cens)})
        sns.scatterplot(data=cdf, x="time", y="surv", ax=ax, marker="+", s=75,
                        color=col, linewidth=1.0, zorder=3, legend=False)
    ax.set_xlim(-2.4, 62.4)
    ax.set_ylim(-0.04, 1.04)
    ax.set_xticks(risk_times)
    ax.set_yticks([0, 0.2, 0.4, 0.6, 0.8, 1.0])
    ax.set_yticklabels(["0.0", "0.2", "0.4", "0.6", "0.8", "1.0"])
    ax.set_xlabel("")
    ax.set_ylabel("")
    style_box(ax, "#555555", 1.2)
    ax.tick_params(axis="both", direction="out", length=6, width=1.0,
                   color="#555555", labelcolor=TXT, left=True, bottom=True)
    ax.tick_params(axis="x", labelsize=15, pad=4)
    ax.tick_params(axis="y", labelsize=15, pad=5, labelrotation=90)
    for lab in ax.get_yticklabels():
        lab.set_va("center")

    cx = (x0 + x1) / 2
    ftext(cx - 11, title_y, title, fontsize=26.5, fontweight="bold",
          family=SANS, color="black", ha="center", va="center")
    ftext(x1 - 12, y0 + 22, hr_txt, fontsize=16, ha="right", va="center")
    ftext(x1 - 12, y0 + 49, p_txt, fontsize=16, ha="right", va="center")
    ftext(x0 - 64, (y0 + y1) / 2, "Probability", fontsize=16, rotation=90,
          ha="center", va="center")
    ftext(cx, y1 + 61, "Time (months)", fontsize=16, ha="center", va="center")

    # legend drawn R style
    ftext(x0 + 10, y1 - 79, "Expression", fontsize=16, ha="left", va="center")
    for dy, col, lab in ((48, "#1a1a1a", "low"), (24, RED, "high")):
        fy = 1 - (y1 - dy) / H
        fig.add_artist(plt.Line2D([(x0 + 21) / W, (x0 + 61) / W], [fy, fy],
                                  color=col, lw=1.0))
        ftext(x0 + 83, y1 - dy, lab, fontsize=16, ha="left", va="center")

    # number at risk table
    ftext(x0 + 1, y1 + 82, "Number at risk", fontsize=10.5, ha="left", va="center")
    ftext(x0 - 23, y1 + 100, "low", fontsize=10.5, ha="right", va="center")
    ftext(x0 - 23, y1 + 118, "high", fontsize=10.5, ha="right", va="center", color=RED)
    tr = mtransforms.blended_transform_factory(ax.transData, fig.transFigure)
    for t, nl, nh in zip(risk_times, risk_low, risk_high):
        ax.text(t, 1 - (y1 + 100) / H, str(nl), transform=tr, fontsize=10.5,
                ha="center", va="center", color=TXT, clip_on=False)
        ax.text(t, 1 - (y1 + 118) / H, str(nh), transform=tr, fontsize=10.5,
                ha="center", va="center", color=RED, clip_on=False)
    return ax


def cutoff_panel(box, xlim, xticks, hr_lim, hr_ticks, hr_fmt, cx, p, hx, hr, cut):
    x0, y0, x1, y1 = box
    ax = add_box(*box)
    sns.lineplot(x=cx, y=p, ax=ax, color="#262626", lw=0.9, estimator=None, sort=False)
    ax.set_xlim(*xlim)
    ax.set_ylim(-0.04, 1.04)
    ax.set_xticks(xticks)
    ax.set_yticks([0, 0.2, 0.4, 0.6, 0.8, 1.0])
    ax.set_yticklabels(["0.0", "0.2", "0.4", "0.6", "0.8", "1.0"])
    ax.set_xlabel("")
    ax.set_ylabel("")
    ax2 = ax.twinx()
    sns.lineplot(x=hx, y=hr, ax=ax2, color=BLUE, lw=0.9, alpha=0.85,
                 estimator=None, sort=False)
    ax2.set_ylim(*hr_lim)
    ax2.set_yticks(hr_ticks)
    ax2.set_yticklabels([hr_fmt % v for v in hr_ticks])
    ax2.set_ylabel("")
    ax2.axvline(cut, color="#ff0000", lw=4.0, zorder=5)
    for a in (ax, ax2):
        style_box(a, "#333333", 1.4)
        a.tick_params(direction="out", length=4, width=0.9, color="#333333",
                      labelcolor=TXT, labelsize=8.5, pad=2)
    ax.tick_params(axis="y", labelrotation=90, left=True)
    ax.tick_params(axis="x", bottom=True)
    ax2.tick_params(axis="y", labelrotation=90, right=True)
    for lab in ax.get_yticklabels() + ax2.get_yticklabels():
        lab.set_va("center")

    ftext((x0 + x1) / 2, y0 - 27, "Significance vs cutoff values between lower and\n"
          "upper quartiles of expression.", fontsize=8, ha="center", va="center",
          color="#333333", linespacing=1.15)
    ftext((x0 + x1) / 2, y1 + 47, "Cutoff values", fontsize=8.5, ha="center",
          va="center", color="#333333")
    ftext(x0 - 47, (y0 + y1) / 2, "P value", fontsize=8.5, rotation=90,
          ha="center", va="center", color="#333333")
    ftext(x1 + 48, (y0 + y1) / 2, "HR value", fontsize=8.5, rotation=90,
          ha="center", va="center", color=BLUE)
    return ax


def brace(x0, x1, xm, y_line, y_end, y_tip):
    pts = [(x0, y_end), (x0, y_line), (x0 + 10, y_line), (xm - 10, y_line),
           (xm - 2, y_line), (xm, y_tip), (xm + 2, y_line), (xm + 10, y_line),
           (x1 - 10, y_line), (x1, y_line), (x1, y_end)]
    codes = [Path.MOVETO, Path.CURVE3, Path.CURVE3, Path.LINETO, Path.CURVE3,
             Path.CURVE3, Path.CURVE3, Path.CURVE3, Path.LINETO, Path.CURVE3, Path.CURVE3]
    verts = [(x / W, 1 - y / H) for x, y in pts]
    fig.add_artist(PathPatch(Path(verts, codes), transform=fig.transFigure,
                             fill=False, lw=1.6, color="black"))


def header(x, base_y, gene):
    size = 40.8
    space = 0.278 * size * 100 / 72
    pieces = [("Patient survival based on", "normal", size, 0, True),
              (gene, "italic", size, 0, True),
              ("expression in", "normal", size, 0, True),
              ("MST1R", "italic", size, 0, False),
              ("High", "normal", 28.5, 19, True),
              ("tumors", "normal", size, 0, False)]
    for s, st, fs, rise, sp in pieces:
        t = ftext(x, base_y - rise, s, fontsize=fs, style=st, family=SANS,
                  color="black", ha="left", va="baseline")
        x += t.get_window_extent(renderer).width + (space if sp else 1)


# ---------------- headers ----------------
ftext(2, 42, "A", fontsize=41, fontweight="bold", family=SANS, color="black",
      ha="left", va="baseline")
header(215, 65, "IL12A")
brace(22, 2050, 1038, 119, 138, 100)

ftext(2, 999, "B", fontsize=41, fontweight="bold", family=SANS, color="black",
      ha="left", va="baseline")
header(215, 1033, "EBI3")
brace(22, 2050, 1038, 1087, 1107, 1068)

# ---------------- panels ----------------
km_panel((88, 212, 559, 601), 188, "Relapse-free survival",
         "HR = 1.38 (1.01 - 1.87)", "logrank P = 0.039",
         (il12a_rfs_low_t, il12a_rfs_low_s, il12a_rfs_low_cens),
         (il12a_rfs_high_t, il12a_rfs_high_s, il12a_rfs_high_cens),
         il12a_rfs_risk_low, il12a_rfs_risk_high)
km_panel((1123, 218, 1594, 608), 188, "Distant metastasis-free survival",
         "HR = 1.67 (1.11 - 2.5)", "logrank P = 0.012",
         (il12a_dmfs_low_t, il12a_dmfs_low_s, il12a_dmfs_low_cens),
         (il12a_dmfs_high_t, il12a_dmfs_high_s, il12a_dmfs_high_cens),
         il12a_dmfs_risk_low, il12a_dmfs_risk_high)
km_panel((88, 1180, 559, 1571), 1158, "Relapse-free survival",
         "HR = 1.27 (0.91 - 1.8)", "logrank P = 0.15",
         (ebi3_rfs_low_t, ebi3_rfs_low_s, ebi3_rfs_low_cens),
         (ebi3_rfs_high_t, ebi3_rfs_high_s, ebi3_rfs_high_cens),
         ebi3_rfs_risk_low, ebi3_rfs_risk_high)
km_panel((1127, 1195, 1598, 1585), 1166, "Distant metastasis-free survival",
         "HR = 1.45 (0.98 - 2.1)", "logrank P = 0.061",
         (ebi3_dmfs_low_t, ebi3_dmfs_low_s, ebi3_dmfs_low_cens),
         (ebi3_dmfs_high_t, ebi3_dmfs_high_s, ebi3_dmfs_high_cens),
         ebi3_dmfs_risk_low, ebi3_dmfs_risk_high)

cutoff_panel((664, 253, 979, 596), (47.8, 133.2), [60, 80, 100, 120],
             (0.9845, 1.393), [1.0, 1.1, 1.2, 1.3], "%.1f",
             il12a_rfs_cut_x, il12a_rfs_cut_p, il12a_rfs_hr_x, il12a_rfs_hr,
             best_cutoff["il12a_rfs"])
cutoff_panel((1699, 261, 2014, 602), (57.8, 143.2), [60, 80, 100, 120, 140],
             (0.975, 1.693), [1.0, 1.1, 1.2, 1.3, 1.4, 1.5, 1.6], "%.1f",
             il12a_dmfs_cut_x, il12a_dmfs_cut_p, il12a_dmfs_hr_x, il12a_dmfs_hr,
             best_cutoff["il12a_dmfs"])
cutoff_panel((664, 1222, 979, 1564), (16.56, 55.44), [20, 25, 30, 35, 40, 45, 50, 55],
             (0.9897, 1.2845), [1.00, 1.05, 1.10, 1.15, 1.20, 1.25], "%.2f",
             ebi3_rfs_cut_x, ebi3_rfs_cut_p, ebi3_rfs_hr_x, ebi3_rfs_hr,
             best_cutoff["ebi3_rfs"])
cutoff_panel((1703, 1237, 2018, 1579), (16.0, 43.0), [20, 25, 30, 35, 40],
             (0.9833, 1.4583), [1.0, 1.1, 1.2, 1.3, 1.4], "%.1f",
             ebi3_dmfs_cut_x, ebi3_dmfs_cut_p, ebi3_dmfs_hr_x, ebi3_dmfs_hr,
             best_cutoff["ebi3_dmfs"])

fig.savefig("out.png", dpi=100)
